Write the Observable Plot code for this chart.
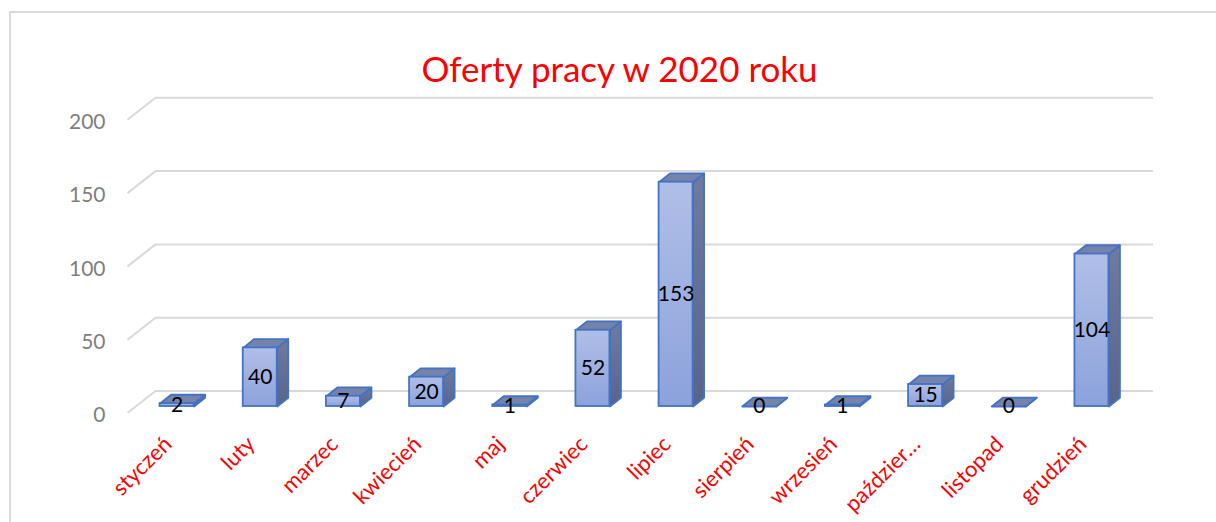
<!DOCTYPE html>
<html><head><meta charset="utf-8">
<script src="https://cdn.jsdelivr.net/npm/d3@7"></script>
<script src="https://cdn.jsdelivr.net/npm/@observablehq/plot@0.6"></script>
<style>
html,body{margin:0;padding:0;background:#fff;overflow:hidden;}
#wrap{position:relative;width:1216px;height:522px;overflow:hidden;}
#border{position:absolute;left:9px;top:11px;width:1300px;height:600px;border:2px solid #d9d9d9;}
#chart{position:absolute;left:0;top:0;}
</style></head><body>
<div id="wrap"><div id="border"></div><div id="chart"></div></div>
<script>
const title = "Oferty pracy w 2020 roku";
const months = ["styczeń","luty","marzec","kwiecień","maj","czerwiec","lipiec","sierpień","wrzesień","paździer…","listopad","grudzień"];
const values = [2, 40, 7, 20, 1, 52, 153, 0, 1, 15, 0, 104];
const yTicks = [0, 50, 100, 150, 200];

const W = 1216, H = 522;
const X0 = 155, X1 = 1153, Y0 = 390.5, Y200 = 97.3;
const pxX = (X1 - X0) / months.length;
const pxY = (Y0 - Y200) / 200;
const floorOff = {dx: -28, dy: 22};
const barOff = {dx: -20, dy: 15.5};
const depth = {dx: 11, dy: -8.8};
const halfW = 17 / pxX;

const data = months.map((m, i) => ({month: m, value: values[i], i}));
const ex = depth.dx / pxX, ey = -depth.dy / pxY;
const tops = [], sides = [];
data.forEach(d => {
  const xl = d.i + 0.5 - halfW, xr = d.i + 0.5 + halfW, v = d.value;
  [[xl, v], [xr, v], [xr + ex, v + ey], [xl + ex, v + ey]].forEach(([x, y]) => tops.push({id: d.i, x, y}));
  [[xr, 0], [xr, v], [xr + ex, v + ey], [xr + ex, ey]].forEach(([x, y]) => sides.push({id: d.i, x, y}));
});

const font = "Lato, 'Open Sans', sans-serif";
const chart = Plot.plot({
  width: W, height: H,
  marginTop: 0, marginRight: 0, marginBottom: 0, marginLeft: 0,
  style: {fontFamily: font, background: "transparent", overflow: "visible"},
  x: {type: "linear", domain: [0, months.length], range: [X0, X1], axis: null},
  y: {domain: [0, 200], range: [Y0, Y200], axis: null},
  marks: [
    Plot.ruleY(yTicks, {y: d => d, x1: 0, x2: months.length, stroke: "#d9d9d9", strokeWidth: 2}),
    Plot.link(yTicks, {x1: 0, y1: d => d, x2: floorOff.dx / pxX, y2: d => d - floorOff.dy / pxY, stroke: "#d9d9d9", strokeWidth: 2}),
    Plot.text(yTicks, {x: 0, y: d => d, text: d => String(d), dx: floorOff.dx - 22, dy: floorOff.dy + 2.5, textAnchor: "end", fill: "#7f7f7f", fontSize: 21}),
    Plot.line(sides, {x: "x", y: "y", z: "id", curve: "linear-closed", fill: "url(#gSide)", stroke: "#4472c4", strokeWidth: 1.8, strokeLinejoin: "round", dx: barOff.dx, dy: barOff.dy}),
    Plot.line(tops, {x: "x", y: "y", z: "id", curve: "linear-closed", fill: "#7483a9", stroke: "#4472c4", strokeWidth: 1.8, strokeLinejoin: "round", dx: barOff.dx, dy: barOff.dy}),
    Plot.rect(data, {x1: d => d.i + 0.5 - halfW, x2: d => d.i + 0.5 + halfW, y1: 0, y2: "value", fill: "url(#gFront)", stroke: "#4472c4", strokeWidth: 1.8, dx: barOff.dx, dy: barOff.dy}),
    Plot.text(data, {x: d => d.i + 0.5, y: d => d.value / 2, text: d => String(d.value), dx: barOff.dx, dy: barOff.dy, fill: "#000", fontSize: 21}),
    Plot.text(data, {x: d => d.i + 0.5, y: 0, text: "month", rotate: -45, textAnchor: "end", dx: barOff.dx - 9, dy: barOff.dy + 34, fill: "#ff0000", fontSize: 22}),
    Plot.text([title], {frameAnchor: "top", text: d => d, dx: 11, dy: 57, fill: "#ff0000", fontSize: 35})
  ]
});

const svg = d3.select(chart);
const defs = svg.insert("defs", ":first-child");
const gf = defs.append("linearGradient").attr("id", "gFront").attr("x1", 0).attr("y1", 0).attr("x2", 0).attr("y2", 1);
gf.append("stop").attr("offset", "0%").attr("stop-color", "#b0bfe8");
gf.append("stop").attr("offset", "100%").attr("stop-color", "#8ca2db");
const gs = defs.append("linearGradient").attr("id", "gSide").attr("x1", 0).attr("y1", 0).attr("x2", 0).attr("y2", 1);
gs.append("stop").attr("offset", "0%").attr("stop-color", "#6f7ba0");
gs.append("stop").attr("offset", "100%").attr("stop-color", "#56648c");

document.getElementById("chart").appendChild(chart);
</script>
</body></html>
